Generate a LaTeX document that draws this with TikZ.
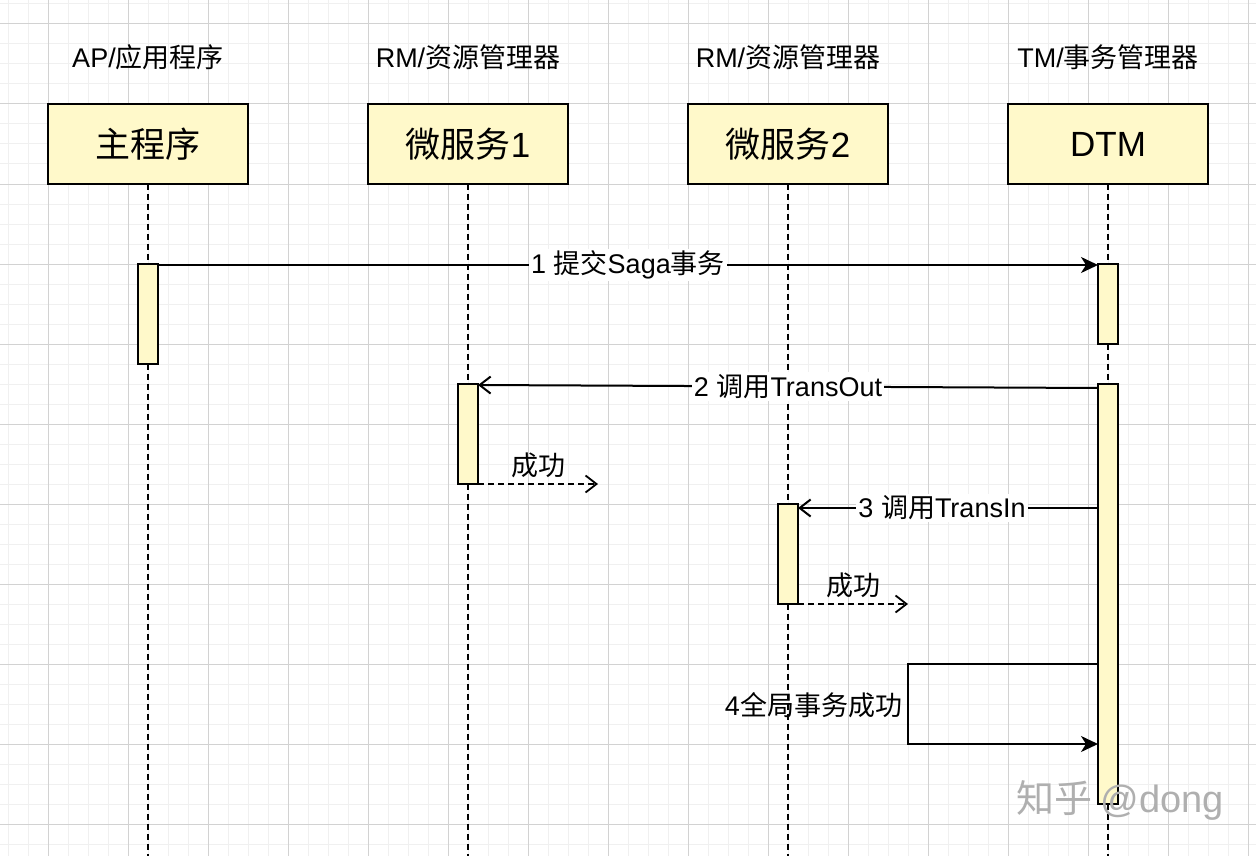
\documentclass[tikz,border=0pt]{standalone}
\usepackage{fontspec}
\setmainfont{Noto Sans CJK SC}
\newfontfamily\lat{Liberation Sans}
\usetikzlibrary{arrows.meta,calc}
\definecolor{boxfill}{RGB}{255,249,202}
\definecolor{gridmaj}{RGB}{210,210,210}
\definecolor{gridmin}{RGB}{240,240,240}
\definecolor{wmark}{RGB}{175,175,175}
\tikzset{
  hdr/.style={font=\fontsize{27}{30}\selectfont, inner sep=0pt},
  actor/.style={draw, line width=2pt, fill=boxfill, minimum width=200pt, minimum height=80pt, inner sep=0pt, outer sep=0pt, font=\fontsize{35}{40}\selectfont},
  bar/.style={draw, line width=2pt, fill=boxfill, minimum width=20pt, inner sep=0pt, outer sep=0pt, anchor=north},
  life/.style={line width=2pt, dash pattern=on 6pt off 4pt},
  msg/.style={line width=2pt, -{Stealth[length=17pt,width=16pt,inset=5pt]}},
  callmsg/.style={line width=2pt, -{Straight Barb[length=11pt,width=17pt,line width=2pt]}},
  retmsg/.style={line width=2pt, dash pattern=on 6pt off 4pt, -{Straight Barb[length=11pt,width=17pt,line width=1.8pt,sep=0pt]}},
  lbl/.style={font=\fontsize{27}{30}\selectfont, fill=white, inner sep=2pt},
  plainlbl/.style={font=\fontsize{27}{30}\selectfont, inner sep=2pt}
}
\begin{document}
\begin{tikzpicture}[x=1pt,y=-1pt]
\useasboundingbox (0,0) rectangle (1256,856);
\fill[white] (0,0) rectangle (1256,856);
% grid
\foreach \x in {8,28,...,1256} \draw[gridmin,line width=1pt] (\x,0) -- (\x,856);
\foreach \y in {4,24,...,856} \draw[gridmin,line width=1pt] (0,\y) -- (1256,\y);
\foreach \x in {48,128,...,1256} \draw[gridmaj,line width=1pt] (\x,0) -- (\x,856);
\foreach \y in {24,104,...,856} \draw[gridmaj,line width=1pt] (0,\y) -- (1256,\y);

% headers
\node[hdr] (h1) at (148,57) {{\lat AP/}应用程序};
\node[hdr] (h2) at (468,57) {{\lat RM/}资源管理器};
\node[hdr] (h3) at (788,57) {{\lat RM/}资源管理器};
\node[hdr] (h4) at (1108,57) {{\lat TM/}事务管理器};

% participant boxes
\node[actor] (p1) at (148,144) {主程序};
\node[actor] (p2) at (468,144) {微服务{\lat 1}};
\node[actor] (p3) at (788,144) {微服务{\lat 2}};
\node[actor] (p4) at (1108,144) {\lat DTM};

% lifeline ends
\coordinate (e1) at (148,856);
\coordinate (e2) at (468,856);
\coordinate (e3) at (788,856);
\coordinate (e4) at (1108,856);
\draw[life] (p1.south) -- (e1);
\draw[life] (p2.south) -- (e2);
\draw[life] (p3.south) -- (e3);
\draw[life] (p4.south) -- (e4);

% activation bars
\node[bar, minimum height=100pt] (a1) at (148,264) {};
\node[bar, minimum height=80pt] (d1) at (1108,264) {};
\node[bar, minimum height=420pt] (d2) at (1108,384) {};
\node[bar, minimum height=100pt] (m1) at (468,384) {};
\node[bar, minimum height=100pt] (m2) at (788,504) {};

% 1
\draw[msg] ($(a1.north east)+(0,1)$) -- node[lbl, pos=0.5] {{\lat 1 }提交{\lat Saga}事务} ($(d1.north west)+(0,1)$);
% 2
\draw[callmsg] ($(d2.north west)+(0,4)$) -- node[lbl, pos=0.5] {{\lat 2 }调用{\lat TransOut}} ($(m1.north east)+(0,1)$);
% success 1
\coordinate (r1) at (598,484);
\draw[retmsg] (m1.south east) -- node[plainlbl, above=3pt, pos=0.5] {成功} (r1);
% 3
\draw[callmsg] ($(d2.north west)+(0,124)$) -- node[lbl, pos=0.52] {{\lat 3 }调用{\lat TransIn}} ($(m2.north east)+(0,4)$);
% success 2
\coordinate (r2) at (908,604);
\draw[retmsg] (m2.south east) -- node[plainlbl, above=3pt, pos=0.5] {成功} (r2);
% 4 self loop
\coordinate (l1) at (908,664);
\coordinate (l2) at (908,744);
\draw[msg] ($(d2.north west)+(0,280)$) -- (l1) -- node[plainlbl, left=3pt, pos=0.52] {{\lat 4}全局事务成功} (l2) -- ($(d2.north west)+(0,360)$);

% watermark
\node[font=\fontsize{38}{42}\selectfont, text=wmark, inner sep=0pt] (wm) at (1120,800) {知乎 {\lat @dong}};
\end{tikzpicture}
\end{document}
